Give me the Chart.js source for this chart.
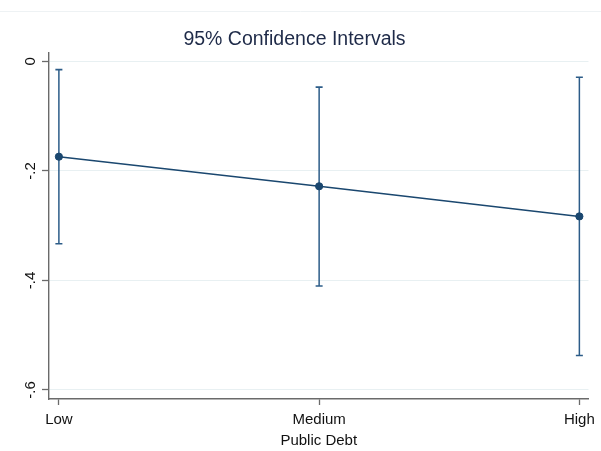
<!DOCTYPE html>
<html>
<head>
<meta charset="utf-8">
<script src="https://cdn.jsdelivr.net/npm/chart.js@4.4.1/dist/chart.umd.min.js"></script>
<style>
  html, body { margin: 0; padding: 0; background: #ffffff; }
  #wrap { width: 601px; height: 451px; position: relative; }
</style>
</head>
<body>
<div id="wrap"><canvas id="c"></canvas></div>
<script>
// ---- data ----
const categories = ['Low', 'Medium', 'High'];
const xPositions = [1, 2, 3];
const estimates = [-0.174, -0.228, -0.283];
const ciLower = [-0.333, -0.410, -0.537];
const ciUpper = [-0.015, -0.047, -0.029];
const yTickValues = [0, -0.2, -0.4, -0.6];
const yTickLabels = ['0', '-.2', '-.4', '-.6'];
const chartTitle = '95% Confidence Intervals';
const xAxisTitle = 'Public Debt';

const FONT = "'Liberation Sans', Arial, Helvetica, sans-serif";
const lineColor = '#1a476f';
const capColor = '#2c5c88';
const axisColor = '#6a6a6a';

const datasets = [{
  label: 'estimate',
  data: xPositions.map((x, i) => ({ x: x, y: estimates[i] })),
  showLine: true,
  borderColor: lineColor,
  backgroundColor: lineColor,
  borderWidth: 1.5,
  pointRadius: 3.6,
  pointBorderWidth: 1,
  pointBackgroundColor: lineColor,
  pointBorderColor: lineColor,
  order: 0
}];
xPositions.forEach((x, i) => {
  datasets.push({
    label: 'ci' + i,
    data: [{ x: x, y: ciLower[i] }, { x: x, y: ciUpper[i] }],
    showLine: true,
    borderColor: capColor,
    backgroundColor: capColor,
    borderWidth: 1.5,
    pointStyle: 'line',
    pointRadius: 3.5,
    pointBorderWidth: 1.6,
    pointBorderColor: capColor,
    order: 1
  });
});

const topLine = {
  id: 'topLine',
  beforeDraw(chart) {
    const ctx = chart.ctx;
    ctx.save();
    ctx.fillStyle = '#ffffff';
    ctx.fillRect(0, 0, chart.width, chart.height);
    ctx.strokeStyle = '#eef2f4';
    ctx.lineWidth = 1;
    ctx.beginPath();
    ctx.moveTo(0, 11.5);
    ctx.lineTo(chart.width, 11.5);
    ctx.stroke();
    ctx.restore();
  }
};

new Chart(document.getElementById('c'), {
  type: 'scatter',
  data: { datasets: datasets },
  plugins: [topLine],
  options: {
    responsive: true,
    maintainAspectRatio: false,
    animation: false,
    devicePixelRatio: 1,
    layout: { padding: { left: 0, right: 12, top: 0, bottom: 0 } },
    plugins: {
      legend: { display: false },
      tooltip: { enabled: false },
      title: {
        display: true,
        text: chartTitle,
        color: '#1e2a48',
        font: { family: FONT, size: 19.5, weight: 'normal' },
        padding: { top: 28, bottom: 1 }
      }
    },
    scales: {
      x: {
        type: 'linear',
        min: 0.962,
        max: 3.035,
        afterBuildTicks: (s) => { s.ticks = xPositions.map(v => ({ value: v })); },
        afterFit: (s) => { s.height = 52; },
        ticks: {
          color: '#111111',
          font: { family: FONT, size: 15 },
          padding: 6,
          maxRotation: 0,
          autoSkip: false,
          callback: (v) => categories[xPositions.indexOf(v)]
        },
        grid: {
          drawOnChartArea: false,
          drawTicks: true,
          tickLength: 6,
          tickColor: axisColor,
          tickWidth: 1.3
        },
        border: { color: axisColor, width: 1.4 },
        title: {
          display: true,
          text: xAxisTitle,
          color: '#111111',
          font: { family: FONT, size: 15 },
          padding: { top: 0, bottom: 1 }
        }
      },
      y: {
        type: 'linear',
        min: -0.6165,
        max: 0.0165,
        afterBuildTicks: (s) => { s.ticks = yTickValues.map(v => ({ value: v })); },
        afterFit: (s) => { s.width = 49; },
        ticks: {
          color: '#111111',
          font: { family: FONT, size: 15 },
          minRotation: 90,
          maxRotation: 90,
          crossAlign: 'center',
          padding: 2,
          autoSkip: false,
          callback: (v) => yTickLabels[yTickValues.indexOf(v)]
        },
        grid: {
          color: '#e8f0f2',
          lineWidth: 1,
          drawTicks: true,
          tickLength: 7,
          tickColor: axisColor,
          tickWidth: 1.3
        },
        border: { color: axisColor, width: 1.4 }
      }
    }
  }
});
</script>
</body>
</html>
